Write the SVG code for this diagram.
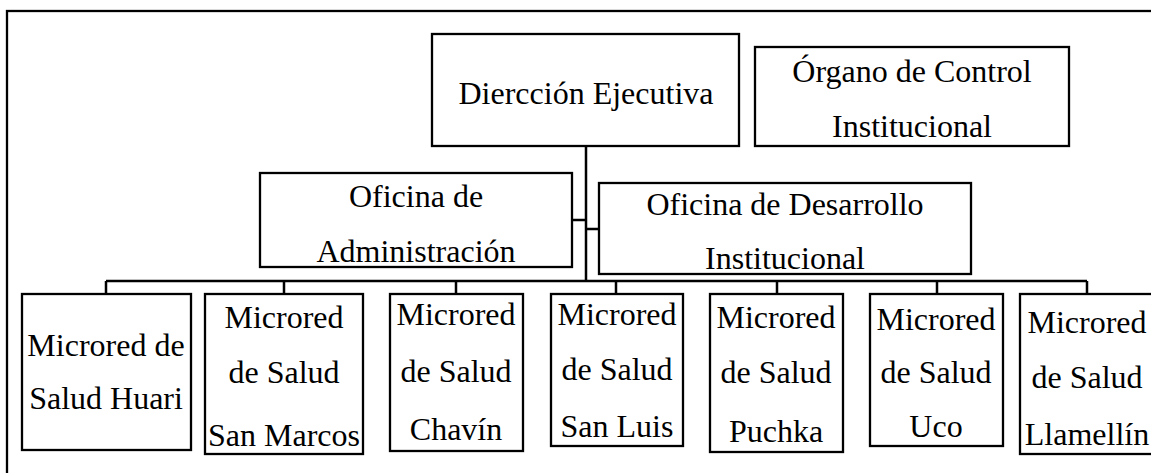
<svg xmlns="http://www.w3.org/2000/svg" width="1151" height="473" viewBox="0 0 1151 473">
<style>
.box{fill:#fff;stroke:#000;stroke-width:2.3}
.ln{fill:none;stroke:#000;stroke-width:2.5}
text{font-family:"Liberation Serif","Times New Roman",serif;font-size:32px;fill:#000;text-anchor:middle}
</style>
<rect x="0" y="0" width="1151" height="473" fill="#fff"/>
<rect x="7" y="11" width="1160" height="480" fill="none" stroke="#000" stroke-width="2.3"/>
<g id="connectors">
<path class="ln" d="M586 146V281M572 220H586M586 229H599M106 281H1087M106 281V294M284 281V294M456 281V294M616 281V294M777 281V294M937 281V294M1087 281V294"/>
</g>
<g id="direccion"><rect class="box" x="432" y="34" width="307" height="112"/><text x="586" y="104">Diercción Ejecutiva</text></g>
<g id="organo"><rect class="box" x="755" y="47" width="314" height="99"/><text x="912" y="82">Órgano de Control</text><text x="912" y="137">Institucional</text></g>
<g id="administracion"><rect class="box" x="260" y="173" width="312" height="94"/><text x="416" y="207">Oficina de</text><text x="416" y="262">Administración</text></g>
<g id="desarrollo"><rect class="box" x="599" y="183" width="372" height="91"/><text x="785" y="215">Oficina de Desarrollo</text><text x="785" y="269">Institucional</text></g>
<g id="huari"><rect class="box" x="22" y="294" width="169" height="156"/><text x="106" y="356">Microred de</text><text x="106" y="409">Salud Huari</text></g>
<g id="sanmarcos"><rect class="box" x="205" y="294" width="158" height="160"/><text x="284" y="328">Microred</text><text x="284" y="383">de Salud</text><text x="284" y="446">San Marcos</text></g>
<g id="chavin"><rect class="box" x="390" y="294" width="133" height="157"/><text x="456" y="325">Microred</text><text x="456" y="382">de Salud</text><text x="456" y="440">Chavín</text></g>
<g id="sanluis"><rect class="box" x="551" y="294" width="132" height="152"/><text x="617" y="325">Microred</text><text x="617" y="380">de Salud</text><text x="617" y="437">San Luis</text></g>
<g id="puchka"><rect class="box" x="710" y="294" width="133" height="158"/><text x="776" y="328">Microred</text><text x="776" y="383">de Salud</text><text x="776" y="442">Puchka</text></g>
<g id="uco"><rect class="box" x="870" y="294" width="133" height="152"/><text x="936" y="330">Microred</text><text x="936" y="383">de Salud</text><text x="936" y="437">Uco</text></g>
<g id="llamellin"><rect class="box" x="1020" y="294" width="141" height="160"/><text x="1087" y="333">Microred</text><text x="1087" y="388">de Salud</text><text x="1087" y="445">Llamellín</text></g>
</svg>
